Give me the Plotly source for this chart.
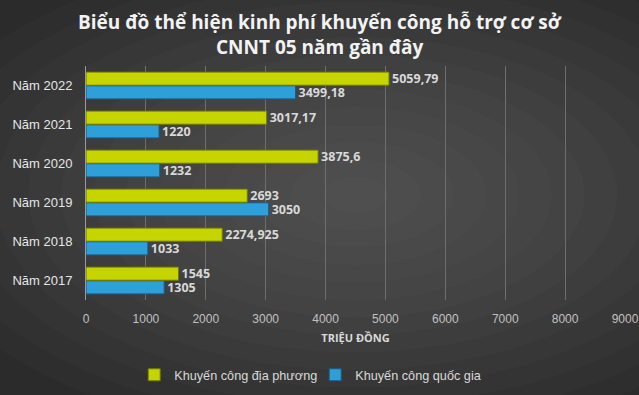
import plotly.graph_objects as go

categories = ["Năm 2017", "Năm 2018", "Năm 2019", "Năm 2020", "Năm 2021", "Năm 2022"]
dia_phuong = [1545, 2274.925, 2693, 3875.6, 3017.17, 5059.79]
quoc_gia = [1305, 1033, 3050, 1232, 1220, 3499.18]
tick_vals = [0, 1000, 2000, 3000, 4000, 5000, 6000, 7000, 8000, 9000]
title_lines = ["Biểu đồ thể hiện kinh phí khuyến công hỗ trợ cơ sở", "CNNT 05 năm gần đây"]


def fmt(v):
    return str(v).replace(".", ",")


label_font = dict(family="Open Sans", size=12.5, color="#d9d9d9", weight="bold")

fig = go.Figure()
fig.add_trace(go.Bar(
    y=categories, x=quoc_gia, orientation="h", name="Khuyến công quốc gia",
    marker=dict(color="#2f9fd9", line=dict(color="#1b5b82", width=1)),
    text=[fmt(v) for v in quoc_gia], textposition="outside", constraintext="none",
    textfont=label_font, cliponaxis=False, legendrank=2,
))
fig.add_trace(go.Bar(
    y=categories, x=dia_phuong, orientation="h", name="Khuyến công địa phương",
    marker=dict(color="#c6d400", line=dict(color="#6f7a00", width=1)),
    text=[fmt(v) for v in dia_phuong], textposition="outside", constraintext="none",
    textfont=label_font, cliponaxis=False, legendrank=1,
))

# radial-ish background gradient
shapes = []
n = 14
for i in range(n):
    f = 1 - i / n
    shapes.append(dict(
        type="circle", xref="paper", yref="paper", layer="below",
        x0=0.5 - 0.85 * f, x1=0.5 + 0.85 * f,
        y0=0.45 - 1.05 * f, y1=0.45 + 1.05 * f,
        fillcolor="rgba(255,255,255,0.016)", line=dict(width=0),
    ))

title_font = dict(family="Open Sans", size=19, color="#f2f2f2", weight="bold")
annotations = [
    dict(text=title_lines[0], xref="paper", yref="paper", x=0.434, y=1.188,
         xanchor="center", yanchor="middle", showarrow=False, font=title_font),
    dict(text=title_lines[1], xref="paper", yref="paper", x=0.434, y=1.081,
         xanchor="center", yanchor="middle", showarrow=False, font=title_font),
]

fig.update_layout(
    width=639, height=395,
    margin=dict(l=86, r=14, t=66, b=95, autoexpand=False),
    paper_bgcolor="#2b2b2b", plot_bgcolor="rgba(0,0,0,0)",
    shapes=shapes, annotations=annotations,
    barmode="group", bargap=0.3, bargroupgap=0.04,
    xaxis=dict(
        range=[0, 9000], tickvals=tick_vals, showgrid=True,
        gridcolor="#6e6e6e", gridwidth=1, zeroline=False, automargin=False,
        ticks="outside", ticklen=8, tickcolor="rgba(0,0,0,0)",
        tickfont=dict(family="Liberation Sans", size=12, color="#c0c0c0"),
        title=dict(text="TRIỆU ĐỒNG", standoff=8,
                   font=dict(family="Open Sans", size=11, color="#d9d9d9", weight="bold")),
    ),
    yaxis=dict(
        showline=True, linecolor="#9a9a9a", linewidth=1, showgrid=False,
        ticks="", ticklabelstandoff=10, automargin=False,
        tickfont=dict(family="Liberation Sans", size=13, color="#e6e6e6"),
    ),
    legend=dict(
        orientation="h", xref="container", yref="container",
        x=0.21, xanchor="left", y=1 - 375 / 395, yanchor="middle",
        font=dict(family="Liberation Sans", size=12.7, color="#d9d9d9"),
        bgcolor="rgba(0,0,0,0)", itemwidth=30, entrywidth=136,
    ),
    showlegend=True,
)

fig.write_html("out.html", config={"displayModeBar": False},
               post_script="document.body.style.margin='0';")
